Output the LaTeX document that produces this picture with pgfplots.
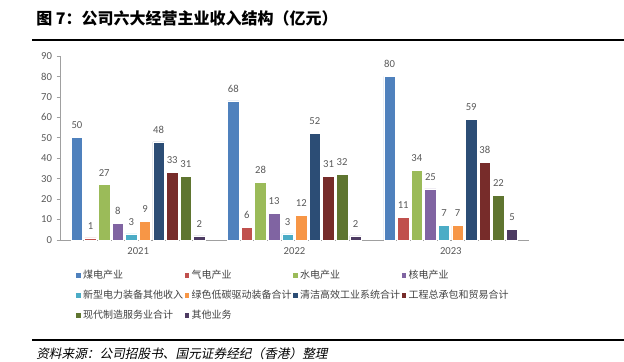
\documentclass[border=0pt]{standalone}
\usepackage{fontspec}
\usepackage{pgfplots}
\pgfplotsset{compat=1.18}
\setmainfont{Carlito}
\newfontfamily\cjk{Noto Sans CJK SC}
\newfontfamily\cjkit[FakeSlant=0.2]{Noto Sans CJK SC}
\definecolor{c1}{HTML}{4F81BD}
\definecolor{c2}{HTML}{C0504D}
\definecolor{c3}{HTML}{9BBB59}
\definecolor{c4}{HTML}{8064A2}
\definecolor{c5}{HTML}{4BACC6}
\definecolor{c6}{HTML}{F79646}
\definecolor{c7}{HTML}{2C4D75}
\definecolor{c8}{HTML}{772C2A}
\definecolor{c9}{HTML}{5F7530}
\definecolor{c10}{HTML}{4D3B62}
\definecolor{axgray}{HTML}{A0A0A0}
\definecolor{labgray}{HTML}{595959}
\definecolor{legtext}{HTML}{404040}
\begin{document}
\begin{tikzpicture}
\useasboundingbox (0,0) rectangle (468pt,270.75pt);
\node[anchor=west, inner sep=0pt, font=\cjk\bfseries\fontsize{12}{14}\selectfont] at (27pt,257.25pt) {图 7：公司六大经营主业收入结构（亿元）};
\draw[line width=1.3pt] (24pt,240.75pt) -- (468pt,240.75pt);
\draw[line width=1.3pt] (24pt,15.75pt) -- (468pt,15.75pt);
\node[anchor=west, inner sep=0pt, font=\cjkit\fontsize{9.5}{11}\selectfont] at (27pt,5.3pt) {资料来源：公司招股书、国元证券经纪（香港）整理};
\begin{axis}[
  at={(45pt,90.75pt)}, anchor=south west,
  scale only axis, width=351.75pt, height=138pt,
  ymin=0, ymax=90, xmin=-0.5, xmax=2.5,
  ytick={0,10,...,90},
  xtick={0,1,2}, xticklabels={2021,2022,2023},
  xtick style={draw=none},
  extra x ticks={-0.5,0.5,1.5,2.5}, extra x tick labels={},
  extra x tick style={tick align=inside, tick style={draw=axgray, line width=0.6pt}},
  axis x line*=bottom, axis y line*=left,
  axis line style={-, draw=axgray, line width=0.6pt},
  ytick style={draw=axgray, line width=0.6pt},
  tick align=outside, major tick length=2.5pt,
  /pgf/number format/assume math mode=true,
  ticklabel style={font=\fontsize{8}{9}\selectfont, text=labgray},
  ybar=1.6pt, bar width=8.6pt,
  nodes near coords,
  every node near coord/.append style={font=\fontsize{8}{9}\selectfont, text=labgray, anchor=south, yshift=3pt},
  legend columns=4,
  legend style={at={(0.0341,-0.167)}, anchor=north west, draw=none, fill=none,
    inner sep=0pt, outer sep=0pt, row sep=7.5pt, column sep=0pt,
    font=\cjk\fontsize{7.5}{9}\selectfont, text=legtext,
    nodes={inner sep=0pt, text height=6pt, text depth=1.5pt}},
  legend image code/.code={\fill[#1, draw=none] (0pt,-1.75pt) rectangle (3.5pt,1.75pt);},
]
\addplot[fill=c1, draw=white, line width=0.5pt] coordinates {(0,50) (1,68) (2,80)};
\addlegendentry{\hspace{1.8pt}\makebox[76.1pt][l]{煤电产业}}
\addplot[fill=c2, draw=white, line width=0.5pt] coordinates {(0,1) (1,6) (2,11)};
\addlegendentry{\hspace{1.8pt}\makebox[76.1pt][l]{气电产业}}
\addplot[fill=c3, draw=white, line width=0.5pt] coordinates {(0,27) (1,28) (2,34)};
\addlegendentry{\hspace{1.8pt}\makebox[76.1pt][l]{水电产业}}
\addplot[fill=c4, draw=white, line width=0.5pt] coordinates {(0,8) (1,13) (2,25)};
\addlegendentry{\hspace{1.8pt}\makebox[76.1pt][l]{核电产业}}
\addplot[fill=c5, draw=white, line width=0.5pt] coordinates {(0,3) (1,3) (2,7)};
\addlegendentry{\hspace{1.8pt}\makebox[76.1pt][l]{新型电力装备其他收入}}
\addplot[fill=c6, draw=white, line width=0.5pt] coordinates {(0,9) (1,12) (2,7)};
\addlegendentry{\hspace{1.8pt}\makebox[76.1pt][l]{绿色低碳驱动装备合计}}
\addplot[fill=c7, draw=white, line width=0.5pt] coordinates {(0,48) (1,52) (2,59)};
\addlegendentry{\hspace{1.8pt}\makebox[76.1pt][l]{清洁高效工业系统合计}}
\addplot[fill=c8, draw=white, line width=0.5pt] coordinates {(0,33) (1,31) (2,38)};
\addlegendentry{\hspace{1.8pt}\makebox[76.1pt][l]{工程总承包和贸易合计}}
\addplot[fill=c9, draw=white, line width=0.5pt] coordinates {(0,31) (1,32) (2,22)};
\addlegendentry{\hspace{1.8pt}\makebox[76.1pt][l]{现代制造服务业合计}}
\addplot[fill=c10, draw=white, line width=0.5pt] coordinates {(0,2) (1,2) (2,5)};
\addlegendentry{\hspace{1.8pt}\makebox[76.1pt][l]{其他业务}}
\end{axis}
\end{tikzpicture}
\end{document}
